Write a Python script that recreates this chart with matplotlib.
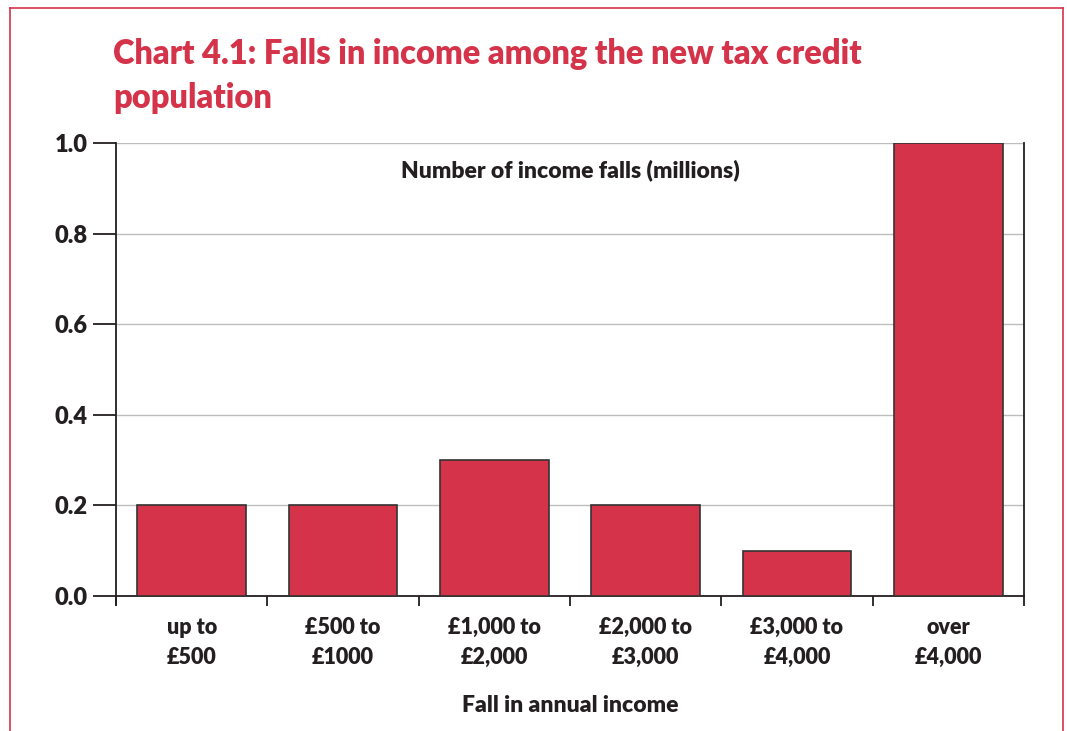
import matplotlib
matplotlib.use("Agg")
import matplotlib.pyplot as plt
from matplotlib.lines import Line2D

categories = ["up to\n£500", "£500 to\n£1000", "£1,000 to\n£2,000",
              "£2,000 to\n£3,000", "£3,000 to\n£4,000", "over\n£4,000"]
falls = [0.2, 0.2, 0.3, 0.2, 0.1, 1.0]
yticks = [0.0, 0.2, 0.4, 0.6, 0.8, 1.0]

RED = "#d4334a"
DARK = "#231f20"
W, H = 1067, 731

plt.rcParams["font.family"] = ["Lato", "DejaVu Sans"]
fig = plt.figure(figsize=(W / 100, H / 100), dpi=100)

# pink frame round the chart (no bottom edge)
fig.add_artist(Line2D([10 / W, 1063 / W], [1 - 8 / H, 1 - 8 / H], color=RED, lw=1.2))
fig.add_artist(Line2D([10 / W, 10 / W], [0, 1 - 8 / H], color=RED, lw=1.2))
fig.add_artist(Line2D([1063 / W, 1063 / W], [0, 1 - 8 / H], color=RED, lw=1.2))

fig.text(113 / W, 1 - 76 / H, "Chart 4.1: Falls in income among the new tax credit\npopulation",
         color=RED, fontsize=23.5, fontweight="heavy", va="center", ha="left", linespacing=1.45)

ax = fig.add_axes([116 / W, 1 - 596 / H, (1024 - 116) / W, (596 - 143) / H])
x = list(range(len(categories)))
ax.bar(x, falls, width=0.72, color=RED, edgecolor="#333333", linewidth=1.2, zorder=3)
ax.set_xlim(-0.5, len(categories) - 0.5)
ax.set_ylim(0, 1.0)
ax.set_yticks(yticks)
ax.set_yticklabels([f"{v:.1f}" for v in yticks], fontsize=17, fontweight="heavy", color=DARK)
ax.yaxis.grid(True, color="#bdbdbd", lw=1, zorder=0)
ax.set_axisbelow(True)

ax.set_xticks(x)
ax.set_xticklabels(categories, fontsize=15.5, fontweight="heavy", color=DARK, linespacing=1.55)
ax.set_xticks([i - 0.5 for i in range(len(categories) + 1)], minor=True)
ax.tick_params(axis="x", which="major", length=0, pad=15)
ax.tick_params(axis="x", which="minor", length=7, width=1.3, direction="out", color=DARK)
ax.tick_params(axis="y", length=16.5, width=1.3, pad=4, color=DARK)

for s in ["left", "right", "bottom"]:
    ax.spines[s].set_color(DARK)
    ax.spines[s].set_linewidth(1.3)
ax.spines["top"].set_visible(False)
ax.spines["left"].set_bounds(-0.02, 1.0)

ax.text(0.5, 0.94, "Number of income falls (millions)", transform=ax.transAxes,
        ha="center", va="center", fontsize=16.5, fontweight="heavy", color=DARK)
fig.text(570 / W, 1 - 705 / H, "Fall in annual income", ha="center", va="center",
         fontsize=16.5, fontweight="heavy", color=DARK)

fig.savefig("out.png", dpi=100)
